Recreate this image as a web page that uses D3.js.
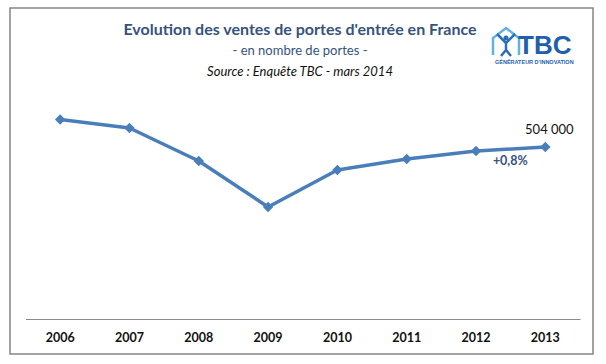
<!DOCTYPE html>
<html>
<head>
<meta charset="utf-8">
<script src="https://cdnjs.cloudflare.com/ajax/libs/d3/7.8.5/d3.min.js"></script>
<style>
body { margin: 0; background: #fff; font-family: Lato, "Open Sans", sans-serif; }
</style>
</head>
<body>
<svg width="606" height="364"></svg>
<script>
// data
var years = ["2006", "2007", "2008", "2009", "2010", "2011", "2012", "2013"];
var ventes = [531500, 523000, 490000, 444000, 481000, 492000, 500000, 504000];
var lastLabel = "504 000";
var evolLabel = "+0,8%";

var svg = d3.select("svg");

// frame
svg.append("rect")
  .attr("x", 10).attr("y", 8)
  .attr("width", 583).attr("height", 346)
  .attr("fill", "none")
  .attr("stroke", "#858585")
  .attr("stroke-width", 1.5);

// titles
svg.append("text")
  .attr("x", 300).attr("y", 35)
  .attr("text-anchor", "middle")
  .style("font", "bold 16px Lato")
  .attr("fill", "#36537c")
  .text("Evolution des ventes de portes d'entrée en France");

svg.append("text")
  .attr("x", 300).attr("y", 55)
  .attr("text-anchor", "middle")
  .style("font", "13px Lato")
  .attr("fill", "#36537c")
  .text("- en nombre de portes -");

svg.append("text")
  .attr("x", 300).attr("y", 76)
  .attr("text-anchor", "middle")
  .style("font", "italic 13px Lato")
  .attr("fill", "#111")
  .text("Source : Enquête TBC - mars 2014");

// logo
var logo = svg.append("g").attr("transform", "translate(490, 26)");
logo.append("path")
  .attr("d", "M3,29 L3,12 L16,2 L29,12 L29,29")
  .attr("fill", "none").attr("stroke", "#5fb3e0").attr("stroke-width", 2.5);
logo.append("path")
  .attr("d", "M7,8 L16,17 L25,8 M16,17 L16,24 M11,30 L16,24 L21,30")
  .attr("fill", "none").attr("stroke", "#2a6fb5").attr("stroke-width", 2.5);
logo.append("circle").attr("cx", 16).attr("cy", 12).attr("r", 2.5).attr("fill", "#2a6fb5");
logo.append("text")
  .attr("x", 28).attr("y", 28)
  .style("font", "bold 26px 'Liberation Sans'")
  .attr("fill", "#1e5fae")
  .text("TBC");
logo.append("text")
  .attr("x", 5).attr("y", 38)
  .style("font", "bold 5.5px 'Liberation Sans'")
  .attr("fill", "#1e5fae")
  .text("GÉNÉRATEUR D'INNOVATION");

// scales
var x = d3.scaleBand().domain(years).range([25.5, 580]);
var y = d3.scaleLinear().domain([332000, 560000]).range([319, 91]);

// x axis
var xAxis = d3.axisBottom(x).tickSize(0).tickPadding(14);
var gx = svg.append("g")
  .attr("transform", "translate(0,319)")
  .call(xAxis);
gx.select(".domain").attr("stroke", "#8a8a8a").attr("stroke-width", 1.2);
gx.selectAll("text")
  .style("font", "bold 12.5px Lato")
  .attr("fill", "#111");

// line
var line = d3.line()
  .x(function(d, i) { return x(years[i]) + x.bandwidth() / 2; })
  .y(function(d) { return y(d); });

svg.append("path")
  .datum(ventes)
  .attr("d", line)
  .attr("fill", "none")
  .attr("stroke", "#4a7ebb")
  .attr("stroke-width", 3.5)
  .attr("stroke-linejoin", "round");

// diamond markers (square turned 45deg)
svg.selectAll(".pt")
  .data(ventes)
  .enter().append("path")
  .attr("class", "pt")
  .attr("d", d3.symbol().type(d3.symbolSquare).size(55))
  .attr("transform", function(d, i) {
    return "translate(" + (x(years[i]) + x.bandwidth() / 2) + "," + y(d) + ") rotate(45)";
  })
  .attr("fill", "#4a7ebb");

// labels
var lx = x(years[7]) + x.bandwidth() / 2;
svg.append("text")
  .attr("x", lx + 4).attr("y", y(ventes[7]) - 13)
  .attr("text-anchor", "middle")
  .style("font", "13px Lato")
  .attr("fill", "#111")
  .text(lastLabel);

svg.append("text")
  .attr("x", lx - 35).attr("y", y(ventes[7]) + 18)
  .attr("text-anchor", "middle")
  .style("font", "bold 12.5px Lato")
  .attr("fill", "#36537c")
  .text(evolLabel);
</script>
</body>
</html>
